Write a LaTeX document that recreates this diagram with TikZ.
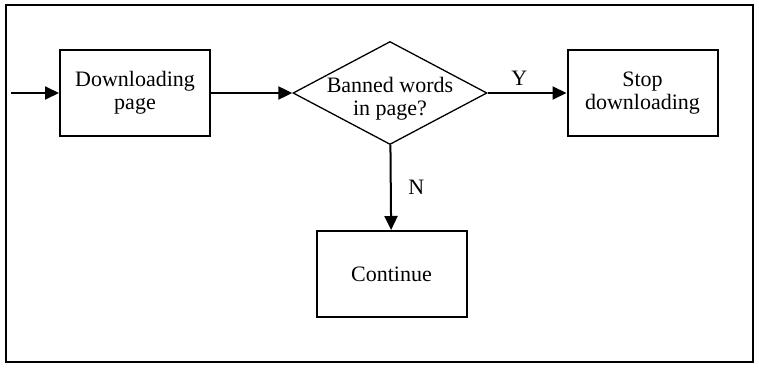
\documentclass[tikz,border=0pt]{standalone}
\usepackage{fontspec}
\setmainfont{Liberation Serif}
\usetikzlibrary{arrows.meta,positioning,shapes.geometric}
\tikzset{
  >={Triangle[length=7pt,width=6.5pt]},
  box/.style={draw=black,line width=1pt,minimum width=75pt,minimum height=43pt,
    inner sep=0pt,align=center,font=\fontsize{11}{11.5}\selectfont},
  decision/.style={diamond,draw=black,line width=0.65pt,minimum width=97pt,
    minimum height=51.5pt,inner sep=0pt},
  flow/.style={->,line width=1pt},
  tag/.style={font=\fontsize{11}{11.5}\selectfont,align=center},
}
\begin{document}
\begin{tikzpicture}[x=0.5pt,y=-0.5pt]
  \useasboundingbox (0,0) rectangle (759,370);
  \draw[line width=1.2pt] (6,5) rectangle (753,362);
  % steps
  \node[box] (dl) at (135,93) {Downloading\\page};
  \node[decision,label={[tag,yshift=-3pt]center:Banned words\\in page?}] (ban) at (390,93) {};
  \node[box] (stop) at (642.5,93) {Stop\\downloading};
  \node[box] (cont) at (391.5,274) {Continue};
  % connectors
  \coordinate (in) at (11,93);
  \draw[flow] (in) -- (dl);
  \draw[flow] (dl) -- (ban);
  \draw[flow] (ban) -- node[tag,above,pos=0.4] {Y} (stop);
  \draw[flow] (ban) -- node[tag,right=5pt] {N} (cont);
\end{tikzpicture}
\end{document}
